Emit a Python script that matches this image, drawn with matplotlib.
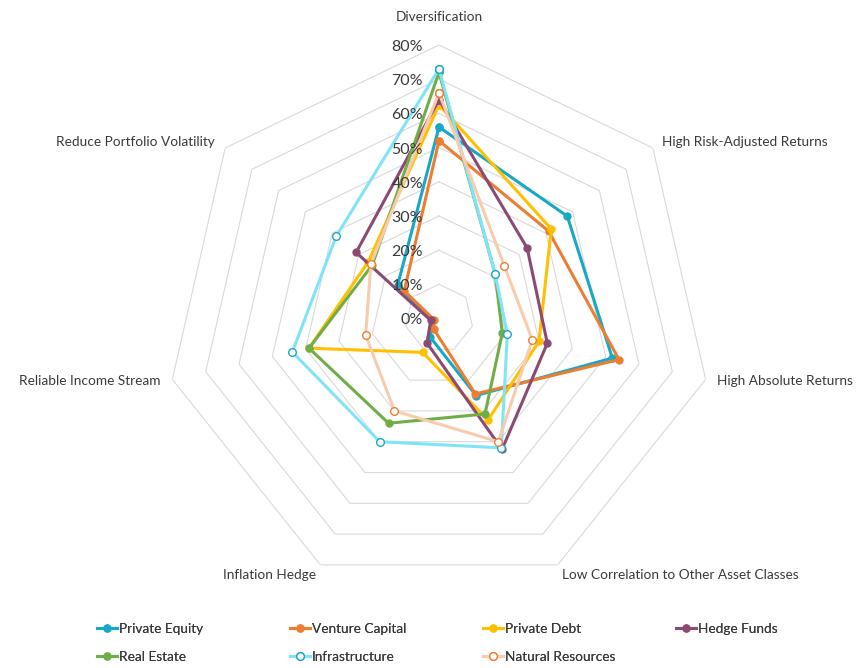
import numpy as np
import matplotlib
matplotlib.use("Agg")
import matplotlib.pyplot as plt

# Kategorier (akser i radardiagrammet), med klokka fra toppen
kategorier = ["Diversification", "High Risk-Adjusted Returns", "High Absolute Returns",
              "Low Correlation to Other Asset Classes", "Inflation Hedge",
              "Reliable Income Stream", "Reduce Portfolio Volatility"]

# Verdier i prosent, lest av figuren
private_equity = [56, 48, 52, 25, 6, 2, 15.5]
venture_capital = [52, 41, 54, 24.5, 3.5, 1.5, 13]
private_debt = [62.5, 42, 30, 33, 11, 39, 26.5]
hedge_funds = [64, 33, 32.5, 42.5, 8, 2.5, 31]
real_estate = [72, 21, 19, 31, 34, 39, 25]
infrastructure = [73, 21, 20.5, 42, 40, 44, 38.5]
natural_resources = [66, 24.5, 28, 40, 30, 22, 25.5]

serier = ["Private Equity", "Venture Capital", "Private Debt", "Hedge Funds",
          "Real Estate", "Infrastructure", "Natural Resources"]
verdier = [private_equity, venture_capital, private_debt, hedge_funds,
           real_estate, infrastructure, natural_resources]

grid_nivaa = [10, 20, 30, 40, 50, 60, 70, 80]
tick_nivaa = [0, 10, 20, 30, 40, 50, 60, 70, 80]

# Stil per serie: (linjefarge, markørfyll, markørkant)
stiler = {
    "Private Equity": ("#17A8C6", "#17A8C6", "#17A8C6"),
    "Venture Capital": ("#ED7D31", "#ED7D31", "#ED7D31"),
    "Private Debt": ("#FFC000", "#FFC000", "#FFC000"),
    "Hedge Funds": ("#8B4A73", "#8B4A73", "#8B4A73"),
    "Real Estate": ("#70AD47", "#70AD47", "#70AD47"),
    "Infrastructure": ("#80E4F8", "white", "#1BA6CC"),
    "Natural Resources": ("#F8CBAD", "white", "#ED7D31"),
}

plt.rcParams["font.family"] = ["Lato", "DejaVu Sans"]
fs = 9.8
tekstfarge = "#3A3A3A"

fig = plt.figure(figsize=(8.57, 6.68), dpi=100)
W, H = 857, 668
cx, cy, rad = 439, 318.5, 273.5
ax = fig.add_axes([(cx - rad) / W, 1 - (cy + rad) / H, 2 * rad / W, 2 * rad / H],
                  projection="polar")
ax.set_theta_offset(np.pi / 2)
ax.set_theta_direction(-1)
ax.set_ylim(0, 0.8)
ax.grid(False)
ax.spines["polar"].set_visible(False)
ax.set_xticks([])
ax.set_yticks([])
ax.patch.set_visible(False)

n = len(kategorier)
vinkler = np.linspace(0, 2 * np.pi, n, endpoint=False)
vinkler_lukket = np.append(vinkler, vinkler[0])

# Rutenett som sjukanter
for niva in grid_nivaa:
    ax.plot(vinkler_lukket, [niva / 100] * (n + 1), color="#D9D9D9", lw=0.8, zorder=1)

# Seriene
linjer = {}
for navn_s, v in zip(serier, verdier):
    farge, fyll, kant = stiler[navn_s]
    r = np.append(np.array(v) / 100, v[0] / 100)
    ms = 5.5 if fyll == "white" else 5
    (ln,) = ax.plot(vinkler_lukket, r, color=farge, lw=2.2, marker="o", ms=ms,
                    markerfacecolor=fyll, markeredgecolor=kant, markeredgewidth=1,
                    zorder=3, label=navn_s, clip_on=False)
    linjer[navn_s] = ln

# Akseverdier langs toppaksen
for t in tick_nivaa:
    ax.annotate(f"{t}%", xy=(0, t / 100), xytext=(-16, -2), textcoords="offset pixels",
                ha="right", va="center", fontsize=11.5, color=tekstfarge)

# Kategorietiketter
forskyvning = [(0, 28, "center"), (9, 6, "left"), (11, -2, "left"), (4, -10, "left"),
               (-4, -10, "right"), (-12, -2, "right"), (-10, 6, "right")]
for vinkel, kat, (dx, dy, ha) in zip(vinkler, kategorier, forskyvning):
    ax.annotate(kat, xy=(vinkel, 0.8), xytext=(dx, dy), textcoords="offset pixels",
                ha=ha, va="center", fontsize=fs, color=tekstfarge, annotation_clip=False)

# Legende: én kolonne per legende for jevn avstand
kolonner = [["Private Equity", "Real Estate"], ["Venture Capital", "Infrastructure"],
            ["Private Debt", "Natural Resources"], ["Hedge Funds"]]
kolonne_x = [97, 290, 483, 676]
for kol, x in zip(kolonner, kolonne_x):
    leg = fig.legend([linjer[k] for k in kol], kol, frameon=False,
                     loc="upper left", bbox_to_anchor=(x / W, 1 - 623 / H),
                     fontsize=fs, labelcolor=tekstfarge, handlelength=1.5,
                     handletextpad=0.1, labelspacing=1.15, borderaxespad=0, borderpad=0)
    fig.add_artist(leg)

fig.savefig("out.png", dpi=100)
